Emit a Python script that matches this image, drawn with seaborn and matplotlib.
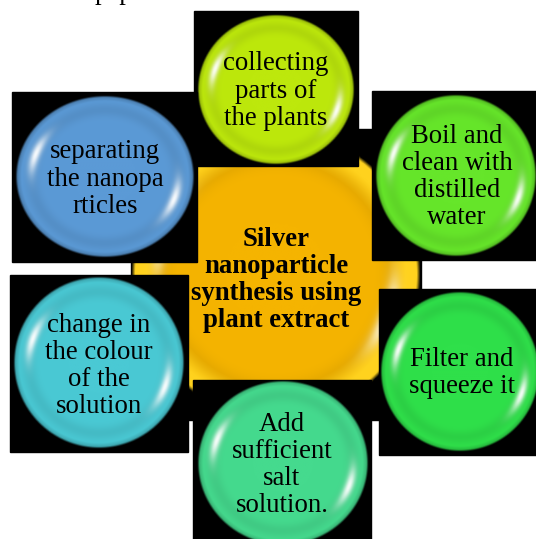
import numpy as np
import matplotlib
matplotlib.use("Agg")
import matplotlib.pyplot as plt
from matplotlib.patches import Rectangle
import seaborn as sns

# step labels, clockwise from the top
steps = [
    "collecting\nparts of\nthe plants",
    "Boil and\nclean with\ndistilled\nwater",
    "Filter and\nsqueeze it",
    "Add\nsufficient\nsalt\nsolution.",
    "change in\nthe colour\nof the\nsolution",
    "separating\nthe nanopa\nrticles",
]
centre_label = "Silver\nnanoparticle\nsynthesis using\nplant extract"
step_colors = ["#bde80c", "#66e62a", "#2fe04a", "#45da8e", "#4ac9d4", "#5b9ad6"]
centre_color = "#f5b400"

# layout in pixels: black tile (x0, y0, x1, y1) and bubble (cx, cy, w, h)
tiles = [(194, 11, 358, 166), (372, 91, 540, 260), (379, 289, 540, 455),
         (193, 380, 371, 545), (10, 275, 188, 452), (12, 92, 197, 262)]
bubbles = [(276, 90, 158, 151), (456, 176, 162, 163), (460, 372, 160, 161),
           (283, 463, 172, 166), (99, 363, 172, 173), (105, 177, 180, 163)]
text_pos = [(276, 91), (457, 177), (462, 373), (282, 465), (99, 366), (105, 179)]
centre_tile = (131, 129, 421, 420)
centre_bubble = (276, 274, 290, 290)

sns.set_style("white")
plt.rcParams["font.family"] = ["Liberation Serif", "DejaVu Serif"]


def bubble_image(color, ring=None, n=240):
    base = np.array(matplotlib.colors.to_rgb(color))
    u, v = np.meshgrid(np.linspace(-1, 1, n), np.linspace(-1, 1, n))
    r = np.hypot(u, v)
    phi = np.degrees(np.arctan2(v, u))
    shade = 1.0 - 0.07 * np.exp(-((r - 0.82) / 0.08) ** 2) - 0.25 * np.clip((r - 0.93) / 0.07, 0, 1)
    rgb = base[None, None, :] * shade[..., None]
    if ring is not None:
        ring = np.array(matplotlib.colors.to_rgb(ring))
        w = np.clip((r - 0.78) / 0.12, 0, 1)[..., None]
        rgb = rgb * (1 - w) + ring[None, None, :] * w
    hl = np.zeros_like(r)
    for a in (20, -160):
        d = (phi - a + 180) % 360 - 180
        hl += np.exp(-((r - 0.82) / 0.05) ** 2) * np.exp(-(d / 17) ** 2)
    hl = np.clip(hl, 0, 1)[..., None] * 0.95
    rgb = rgb * (1 - hl) + hl
    alpha = np.clip((1 - r) / 0.025, 0, 1)
    return np.dstack([np.clip(rgb, 0, 1), alpha])


fig = plt.figure(figsize=(5.36, 5.39), dpi=100)
ax = fig.add_axes([0, 0, 1, 1])

# centre bubble first, the step tiles sit over it
x0, y0, x1, y1 = centre_tile
ax.add_patch(Rectangle((x0, y0), x1 - x0, y1 - y0, color="black", zorder=1))
cx, cy, w, h = centre_bubble
ax.imshow(bubble_image(centre_color, ring="#ffd21e"),
          extent=[cx - w / 2, cx + w / 2, cy + h / 2, cy - h / 2],
          origin="upper", interpolation="bilinear", zorder=2)
ax.text(cx, 280, centre_label, ha="center", va="center", fontsize=19.3, color="black",
        fontweight="bold", linespacing=1.12, zorder=4)

for i, (label, col) in enumerate(zip(steps, step_colors)):
    x0, y0, x1, y1 = tiles[i]
    z = 5 + 2 * i
    ax.add_patch(Rectangle((x0, y0), x1 - x0, y1 - y0, color="black", zorder=z))
    cx, cy, w, h = bubbles[i]
    ax.imshow(bubble_image(col), extent=[cx - w / 2, cx + w / 2, cy + h / 2, cy - h / 2],
              origin="upper", interpolation="bilinear", zorder=z + 0.5)
    tx, ty = text_pos[i]
    ax.text(tx, ty, label, ha="center", va="center", fontsize=19.3, color="black",
            linespacing=1.12, zorder=z + 1)

# cut-off word from the page above
ax.text(95, -1, "paper", ha="left", va="baseline", fontsize=19.3, color="black",
        zorder=20, clip_on=True)

ax.set_xlim(0, 536)
ax.set_ylim(539, 0)
ax.set_aspect("auto")
ax.axis("off")
fig.savefig("out.png", dpi=100)
